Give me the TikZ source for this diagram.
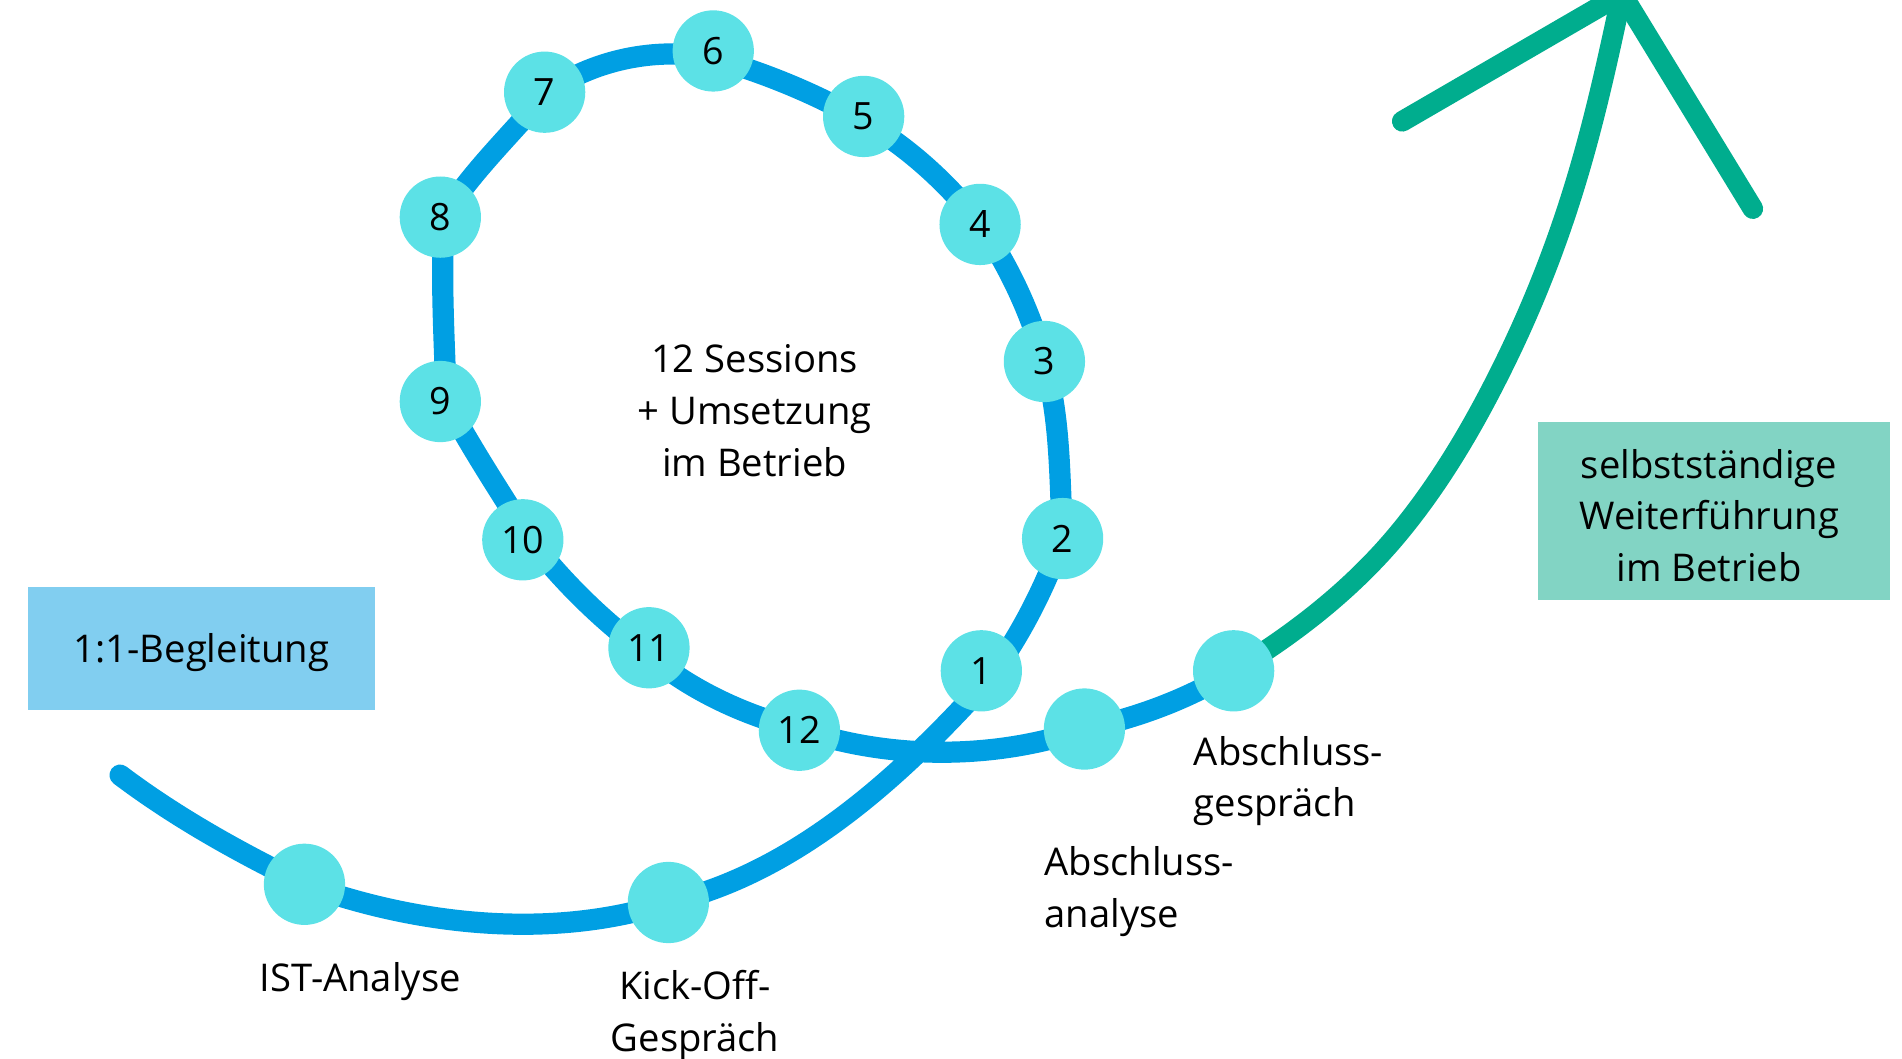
\documentclass[tikz,border=0pt]{standalone}
\usepackage{fontspec}
\setmainfont{Open Sans}
\definecolor{pathblue}{HTML}{009FE3}
\definecolor{dotcol}{HTML}{5CE1E6}
\definecolor{arrgreen}{HTML}{00AD8E}
\definecolor{boxblue}{HTML}{81CEF0}
\definecolor{boxgreen}{HTML}{82D4C4}
\tikzset{
  dot/.style={circle,fill=dotcol,minimum size=67pt,inner sep=0pt,font=\fontsize{31}{36}\selectfont},
  lbl/.style={align=center,font=\fontsize{31.5}{42.5}\selectfont,inner sep=0pt},
  lbll/.style={align=left,anchor=west,font=\fontsize{31.5}{42.5}\selectfont,inner sep=0pt},
  bluepath/.style={draw=pathblue,line width=17.5pt,line cap=round,line join=round},
  greenpath/.style={draw=arrgreen,line width=17pt,line cap=round,line join=round},
}
\begin{document}
\begin{tikzpicture}[x=1pt,y=-1pt]
\useasboundingbox (0,0) rectangle (1568,873);
% path points
\coordinate (pst) at (99,639);
\coordinate (pIST) at (251,729);
\coordinate (pKO) at (551,744);
\coordinate (p1) at (814,561);
\coordinate (p2) at (876,444);
\coordinate (p3) at (861,298);
\coordinate (p4) at (808,185);
\coordinate (p5) at (712,100);
\coordinate (p6) at (588,48);
\coordinate (p7) at (449,78);
\coordinate (p8) at (366,178);
\coordinate (p9) at (368,331);
\coordinate (p10) at (437,445);
\coordinate (p11) at (535,540);
\coordinate (p12) at (659,601);
\coordinate (pAA) at (894,601);
\coordinate (pAG) at (1017,553);
\coordinate (q1) at (1151,442);
\coordinate (q2) at (1243,294);
\coordinate (q3) at (1300,147);
\coordinate (tip) at (1337,-5);
\coordinate (arrL) at (1156,100);
\coordinate (arrR) at (1445,172);
% boxes
\node[fill=boxblue,minimum width=286pt,minimum height=101pt,inner sep=0pt,text depth=0pt,font=\fontsize{31.5}{42.5}\selectfont] (begl) at (166,534.5) {1:1-Begleitung};
\node[fill=boxgreen,minimum width=290pt,minimum height=147pt,inner sep=0pt] (selb) at (1413,421.5) {};
\node[lbl] (selbtxt) at (1409,425) {selbstständige\\Weiterführung\\im Betrieb};
% blue path
\draw[bluepath] (pst)
  .. controls (146,674.4) and (198.1,703.2) .. (pIST)
  .. controls (345,763.2) and (455.9,774.9) .. (pKO)
  .. controls (655.3,719.9) and (742.4,640.5) .. (p1)
  .. controls (840.5,525.8) and (860.9,485.4) .. (p2)
  .. controls (873.4,395.2) and (874.5,345) .. (p3)
  .. controls (849.5,258) and (831.9,219.1) .. (p4)
  .. controls (781.7,151.4) and (749,121.35) .. (p5)
  .. controls (673.2,77.6) and (631.1,60.3) .. (p6)
  .. controls (541.6,38.1) and (486.9,49.5) .. (p7)
  .. controls (421.2,111.2) and (388.9,141.3) .. (p8)
  .. controls (363.3,228.9) and (366.2,280) .. (p9)
  .. controls (388.8,370.2) and (413.5,407.3) .. (p10)
  .. controls (465,480.9) and (498.2,513.3) .. (p11)
  .. controls (570.2,569.5) and (614.5,589.9) .. (p12)
  .. controls (733,626.5) and (820,626.5) .. (pAA)
  .. controls (937,591.9) and (979.7,576.3) .. (pAG);
% green arrow
\draw[greenpath] (pAG)
  .. controls (1066.7,523.1) and (1113.7,486.4) .. (q1)
  .. controls (1188.3,397.5) and (1217.7,346.3) .. (q2)
  .. controls (1265.9,246.7) and (1284.9,197.4) .. (q3)
  .. controls (1315,97.1) and (1326.2,46) .. (tip);
\draw[greenpath] (arrL) -- (tip) -- (arrR);
% dots
\node[dot] (n1) at (809,553) {1};
\node[dot] (n2) at (876,444) {2};
\node[dot] (n3) at (861,298) {3};
\node[dot] (n4) at (808,185) {4};
\node[dot] (n5) at (712,96) {5};
\node[dot] (n6) at (588,42) {6};
\node[dot] (n7) at (449,76) {7};
\node[dot] (n8) at (363,179) {8};
\node[dot] (n9) at (363,331) {9};
\node[dot] (n10) at (431,445) {10};
\node[dot] (n11) at (535,534) {11};
\node[dot] (n12) at (659,602) {12};
\node[dot] (nIST) at (pIST) {};
\node[dot] (nKO) at (pKO) {};
\node[dot] (nAA) at (pAA) {};
\node[dot] (nAG) at (pAG) {};
% labels
\node[lbl] (sess) at (622,338.5) {12 Sessions\\+ Umsetzung\\im Betrieb};
\node[lbl] (tIST) at (297,809) {IST-Analyse};
\node[lbl] (tKO) at (573,837) {Kick-Off-\\Gespräch};
\node[lbll] (tAA) at (861,735) {Abschluss-\\analyse};
\node[lbll] (tAG) at (984,644) {Abschluss-\\gespräch};
\end{tikzpicture}
\end{document}
